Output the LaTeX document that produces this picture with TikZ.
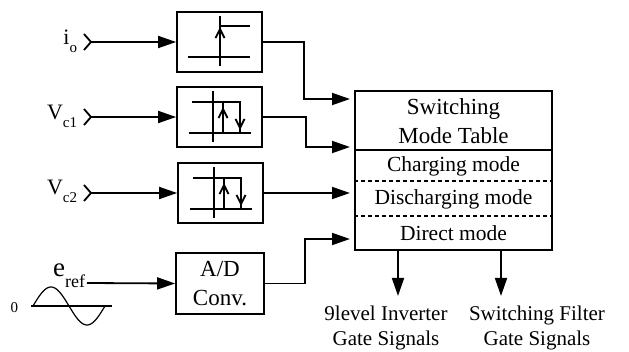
\documentclass[tikz,border=0pt]{standalone}
\usepackage{fontspec}
\setmainfont{Liberation Serif}
\usetikzlibrary{arrows.meta}
\newcommand{\lowidx}[1]{\raisebox{-8pt}{\fontsize{15}{15}\selectfont #1}}

\begin{document}
\begin{tikzpicture}[
        x=1pt, y=-1pt, line width=1.8pt,
        font=\fontsize{22}{29}\selectfont,
        cmp/.style={rectangle, draw=black, minimum width=85pt, minimum height=60pt, align=center},
        tbl/.style={rectangle, draw=black, minimum width=197pt, minimum height=159pt},
        lbl/.style={inner sep=0pt, anchor=base east},
        arrow/.style={-{Triangle[length=18pt, width=12pt]}},
        barb/.style={-{Straight Barb[length=9pt, width=9pt]}},
        sep/.style={dash pattern=on 4pt off 3pt},
        stepsym/.pic={
            \draw (0.5,24) -- (0.5,-26);
            \draw (0.5,-16) -- (30.5,-16);
            \draw (-31.5,15) -- (30.5,15);
            \draw[barb] (0.5,5) -- (0.5,-15);
        },
        hyst/.pic={
            \draw (-6.5,-26) -- (-6.5,25);
            \draw (-27.5,-15) -- (20.5,-15) -- (20.5,16);
            \draw (-30.5,16) -- (31.5,16);
            \draw (3.5,16) -- (3.5,-15);
            \draw[barb] (3.5,10) -- (3.5,-10);
            \draw[barb] (20.5,-8) -- (20.5,13);
        }
    ]
        \useasboundingbox (0,0) rectangle (629,352);

        \node[cmp] (cio) at (219.5,42) {};
        \node[cmp] (cvc1) at (219.5,117) {};
        \node[cmp] (cvc2) at (220.5,193) {};
        \node[cmp, minimum width=88pt, minimum height=61pt, font=\fontsize{23}{29}\selectfont] (adc) at (220,283.5) {A/D\\Conv.};
        \pic at (cio) {stepsym};
        \pic at (cvc1) {hyst};
        \pic at (cvc2) {hyst};

        \node[tbl] (smt) at (453.5,170.5) {};
        \draw ([yshift=-60pt]smt.north west) -- ([yshift=-60pt]smt.north east);
        \draw[sep] ([yshift=-91pt]smt.north west) -- ([yshift=-91pt]smt.north east);
        \draw[sep] ([yshift=-126pt]smt.north west) -- ([yshift=-126pt]smt.north east);
        \node[align=center, font=\fontsize{23}{29}\selectfont] (title) at (453.5,121.5) {Switching\\Mode Table};
        \node[font=\fontsize{21.5}{26}\selectfont] (chg) at (453.5,166) {Charging mode};
        \node[font=\fontsize{21.5}{26}\selectfont] (dis) at (453.5,199) {Discharging mode};
        \node[font=\fontsize{21.5}{26}\selectfont] (dir) at (453.5,233) {Direct mode};

        \coordinate (pio) at (91,42);
        \coordinate (pvc1) at (91,117);
        \coordinate (pvc2) at (91,193);
        \coordinate (pref) at (87,283);
        \draw (pio) ++(-7,-8) -- (pio) -- ++(-7,8);
        \draw (pvc1) ++(-7,-8) -- (pvc1) -- ++(-7,8);
        \draw (pvc2) ++(-7,-8) -- (pvc2) -- ++(-7,8);
        \node[lbl] (lio) at (78,45) {i\lowidx{o}};
        \node[lbl] (lvc1) at (78,120) {V\lowidx{c1}};
        \node[lbl] (lvc2) at (78,195) {V\lowidx{c2}};
        \node[lbl] (lref) at (86,277) {{\fontsize{27}{27}\selectfont e}\raisebox{-11pt}{\fontsize{18}{18}\selectfont ref}};

        \draw[line width=1.2pt] (31,306) -- (112,306);
        \draw[line width=1.2pt] plot[domain=0:360, samples=60] ({33+\x/360*72}, {306-19*sin(\x)});
        \node[inner sep=0pt, anchor=east, font=\fontsize{15}{15}\selectfont] (zero) at (19,308) {0};

        \coordinate (in1) at (350,99);
        \coordinate (in2) at (350,147);
        \coordinate (in3) at (350,193);
        \coordinate (in4) at (350,239);

        \draw[arrow] (pio) -- (cio.west);
        \draw[arrow] (pvc1) -- (cvc1.west);
        \draw[arrow] (pvc2) -- (cvc2.west);
        \draw[arrow] (pref) -- (adc.west);

        \draw[arrow] (cio.east) -- ++(41,0) |- (in1);
        \draw[arrow] (cvc1.east) -- ++(43,0) |- (in2);
        \draw[arrow] (cvc2.east) -- (in3);
        \draw[arrow] (adc.east) -- ++(40,0) |- (in4);

        \coordinate (g1) at (398,296);
        \coordinate (g2) at (501,296);
        \draw[arrow] (smt.south -| g1) -- (g1);
        \draw[arrow] (smt.south -| g2) -- (g2);
        \node[align=center, font=\fontsize{21}{25}\selectfont] (sig1) at (386,327.5) {9level Inverter\\Gate Signals};
        \node[align=center, font=\fontsize{21}{25}\selectfont] (sig2) at (537,327.5) {Switching Filter\\Gate Signals};
    \end{tikzpicture}
\end{document}
